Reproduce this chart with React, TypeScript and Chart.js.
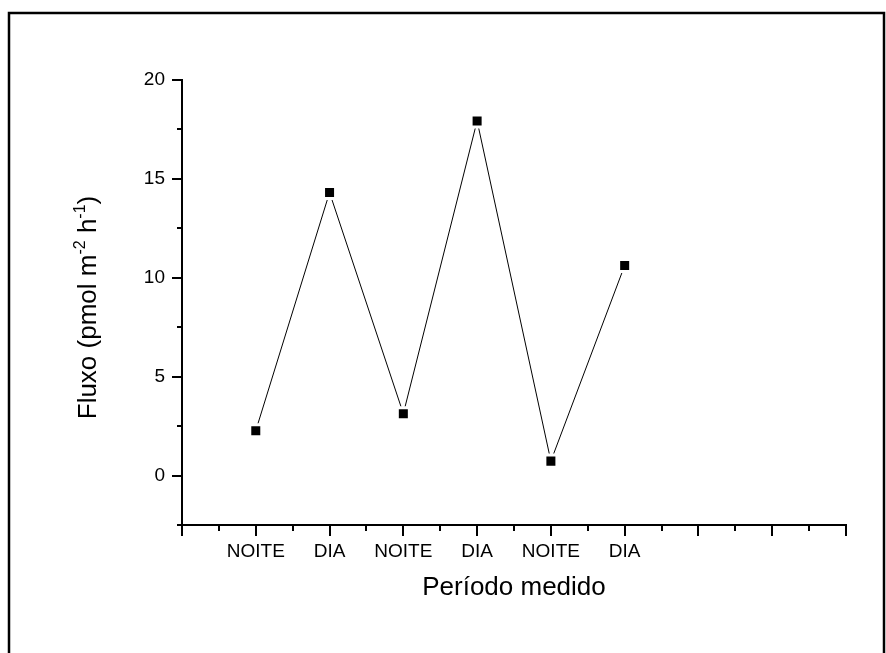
import React, { useEffect, useRef } from 'react';
import { Chart, registerables } from 'chart.js';

Chart.register(...registerables);

// ---- data ----
const categories = ['NOITE', 'DIA', 'NOITE', 'DIA', 'NOITE', 'DIA'];
const fluxValues = [2.27, 14.31, 3.13, 17.93, 0.73, 10.62];
const yTickLabels = [0, 5, 10, 15, 20];
const xTitle = 'Período medido';
const yTitleParts = [
  { text: 'Fluxo (pmol m', sup: false },
  { text: '-2', sup: true },
  { text: ' h', sup: false },
  { text: '-1', sup: true },
  { text: ')', sup: false },
];

const FONT = '"Liberation Sans", Arial, sans-serif';

const decorPlugin = {
  id: 'decor',
  beforeDraw(chart: any) {
    const ctx = chart.ctx;
    ctx.save();
    ctx.fillStyle = '#fff';
    ctx.fillRect(0, 0, chart.width, chart.height);
    ctx.restore();
  },
  afterDraw(chart: any) {
    const ctx = chart.ctx;
    const xs = chart.scales.x;
    const ys = chart.scales.y;
    const area = chart.chartArea;
    ctx.save();
    ctx.strokeStyle = '#000';
    ctx.lineWidth = 2;
    // y ticks
    for (let v = ys.min; v <= ys.max + 1e-9; v += 2.5) {
      const py = Math.round(ys.getPixelForValue(v));
      const major = Math.abs(v % 5) < 1e-9;
      const len = major ? 10 : 5;
      ctx.beginPath();
      ctx.moveTo(area.left, py);
      ctx.lineTo(area.left - len, py);
      ctx.stroke();
    }
    // x ticks
    for (let v = xs.min; v <= xs.max + 1e-9; v += 0.5) {
      const px = Math.round(xs.getPixelForValue(v));
      const major = Math.abs(v % 1) < 1e-9;
      const len = major ? 11 : 6;
      ctx.beginPath();
      ctx.moveTo(px, area.bottom);
      ctx.lineTo(px, area.bottom + len);
      ctx.stroke();
    }
    // x title
    ctx.fillStyle = '#000';
    ctx.font = `26px ${FONT}`;
    ctx.textAlign = 'center';
    ctx.textBaseline = 'middle';
    ctx.fillText(xTitle, (area.left + area.right) / 2, area.bottom + 63);

    // y title with superscripts (rotated)
    const baseFont = `26px ${FONT}`;
    const supFont = `16px ${FONT}`;
    let total = 0;
    const widths = yTitleParts.map((p) => {
      ctx.font = p.sup ? supFont : baseFont;
      const w = ctx.measureText(p.text).width;
      total += w;
      return w;
    });
    ctx.translate(96, (area.top + area.bottom) / 2 + 5);
    ctx.rotate(-Math.PI / 2);
    ctx.textAlign = 'left';
    ctx.textBaseline = 'alphabetic';
    let cx = -total / 2;
    yTitleParts.forEach((p, i) => {
      ctx.font = p.sup ? supFont : baseFont;
      ctx.fillText(p.text, cx, p.sup ? -11 : 0);
      cx += widths[i];
    });
    ctx.restore();

    // outer frame (bottom edge lies beyond the picture)
    ctx.save();
    ctx.strokeStyle = '#000';
    ctx.lineWidth = 2.5;
    ctx.strokeRect(9, 13, 875, 700);
    ctx.restore();
  },
};

export default function App() {
  const ref = useRef<HTMLCanvasElement | null>(null);
  useEffect(() => {
    if (!ref.current) return;
    const chart = new Chart(ref.current, {
      type: 'line',
      data: {
        datasets: [
          {
            data: fluxValues.map((v, i) => ({ x: i + 1, y: v })),
            borderColor: '#000',
            borderWidth: 1,
            backgroundColor: '#000',
            pointStyle: 'rect',
            pointRadius: 8.5,
            pointBackgroundColor: '#000',
            pointBorderColor: '#fff',
            pointBorderWidth: 3,
            tension: 0,
            fill: false,
          },
        ],
      },
      options: {
        animation: false,
        responsive: false,
        devicePixelRatio: 1,
        layout: { padding: { left: 0, top: 80, right: 40, bottom: 0 } },
        plugins: { legend: { display: false }, tooltip: { enabled: false }, title: { display: false } },
        scales: {
          x: {
            type: 'linear',
            min: 0,
            max: 9,
            grid: { display: false, drawTicks: false },
            border: { display: true, color: '#000', width: 2 },
            ticks: {
              stepSize: 1,
              autoSkip: false,
              maxRotation: 0,
              padding: 15,
              color: '#000',
              font: { family: FONT, size: 19 },
              callback: (v: any) => {
                const n = Number(v);
                return Number.isInteger(n) && n >= 1 && n <= categories.length ? categories[n - 1] : '';
              },
            },
            afterFit: (s: any) => {
              s.height = 128;
            },
          },
          y: {
            type: 'linear',
            min: -2.5,
            max: 20,
            grid: { display: false, drawTicks: false },
            border: { display: true, color: '#000', width: 2 },
            ticks: {
              stepSize: 2.5,
              autoSkip: false,
              padding: 17,
              color: '#000',
              font: { family: FONT, size: 19 },
              callback: (v: any) => {
                const n = Number(v);
                return yTickLabels.includes(n) ? String(n) : '';
              },
            },
            afterFit: (s: any) => {
              s.width = 182;
            },
          },
        },
      },
      plugins: [decorPlugin],
    });
    return () => chart.destroy();
  }, []);
  return (
    <div style={{ position: 'fixed', left: 0, top: 0, width: 886, height: 653 }}>
      <canvas ref={ref} width={886} height={653} style={{ display: 'block' }} />
    </div>
  );
}
